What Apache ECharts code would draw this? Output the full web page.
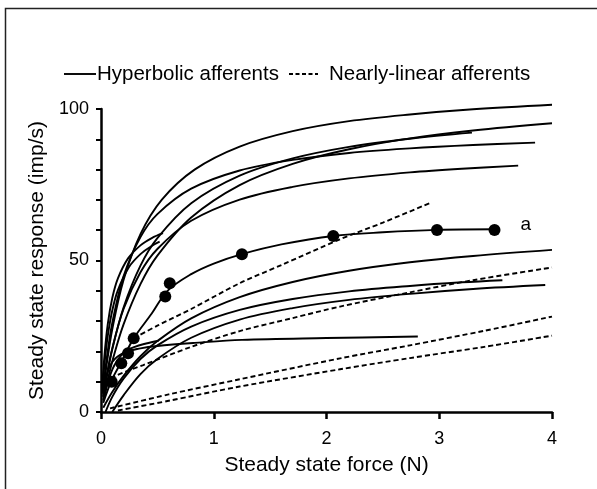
<!DOCTYPE html>
<html><head><meta charset="utf-8">
<script src="https://cdn.jsdelivr.net/npm/echarts@6/dist/echarts.min.js"></script>
<style>html,body{margin:0;padding:0;background:#fff}#c{width:597px;height:489px}</style>
</head><body><div id="c"></div>
<script>
// ---- text / ticks ----
const xTickValues = [0, 1, 2, 3, 4];
const yLabelValues = [0, 50, 100];
const legendNames = ['Hyperbolic afferents', 'Nearly-linear afferents'];
const xTitle = 'Steady state force (N)';
const yTitle = 'Steady state response (imp/s)';
const labelA = 'a';

// ---- hyperbolic afferents (solid), [force N, response imp/s] ----
const hyp1 = [[0.02,6.8],[0.05,15.6],[0.1,27.3],[0.2,43.6],[0.35,58.7],[0.54,70.1],[0.83,80],[1.23,87.6],[1.7,92.7],[2.2,96],[2.74,98.2],[3.3,99.9],[4,101.4]];
const hyp2 = [[0.02,3.8],[0.05,9],[0.1,16.7],[0.2,28.9],[0.35,42.2],[0.5,51.6],[0.8,64.2],[1.23,74.9],[1.7,81.9],[2.2,86.7],[2.74,90.3],[3.3,92.9],[4,95.3]];
const hyp3 = [[0.02,4.9],[0.05,11.5],[0.1,20.7],[0.2,34.5],[0.35,48.3],[0.5,57.4],[0.8,68.9],[1.23,78],[1.7,83.7],[2.2,87.5],[2.74,90.2],[3.29,92.2]];
const hyp4 = [[0.02,7.8],[0.05,17.4],[0.1,29.4],[0.2,44.8],[0.35,57.7],[0.5,65.3],[0.8,73.7],[1.23,79.7],[1.7,83.2],[2.2,85.5],[2.74,87],[3.3,88.1],[3.85,88.9]];
const hyp5 = [[0.02,5.2],[0.05,11.9],[0.1,21],[0.2,34],[0.35,46.1],[0.5,53.8],[0.8,63.1],[1.23,70.1],[1.7,74.3],[2.2,77.1],[2.74,79.1],[3.2,80.3],[3.7,81.3]];
const hyp6 = [[0.01,7.5],[0.03,18.4],[0.06,29],[0.1,37.6],[0.15,44.1],[0.24,50.7],[0.35,55],[0.45,57.4],[0.55,59]];
const hyp7 = [[0.01,6.1],[0.03,15.5],[0.06,25.1],[0.1,33.5],[0.15,40.2],[0.25,47.9],[0.35,52.1],[0.45,54.8],[0.52,56.2]];
const hyp8 = [[0.02,1.4],[0.1,6.6],[0.2,11.9],[0.35,18.4],[0.5,23.4],[0.8,30.9],[1.23,37.9],[1.7,42.9],[2.2,46.6],[2.74,49.4],[3.3,51.5],[4,53.5]];
const hyp9 = [[0.04,0],[0.1,5],[0.2,11],[0.35,17.5],[0.5,22],[0.8,28.2],[1.23,33.7],[1.7,37.3],[2.2,39.8],[2.74,41.6],[3.2,42.8],[3.56,43.5]];
const hyp10 = [[0.1,0],[0.2,5.5],[0.35,12.5],[0.5,17.5],[0.8,24.5],[1.23,30.5],[1.7,34.3],[2.2,37],[2.74,39],[3.3,40.6],[3.94,41.9]];
const hyp11 = [[0.02,6],[0.05,12],[0.1,16.5],[0.2,19.5],[0.35,21],[0.5,21.8],[0.83,22.8],[1.25,23.8],[2,24.4],[2.81,24.9]];
const hyp12 = [[0.03,5],[0.1,14],[0.2,19.5],[0.3,21.5],[0.4,22.6],[0.51,23.5]];
// afferent "a": fitted curve and measured points
const hypA = [[0.02,3],[0.095,10.5],[0.18,16.5],[0.29,24.3],[0.45,32.5],[0.59,40],[0.8,45.5],[1.0,49],[1.25,52.1],[1.6,55.3],[2.06,58.1],[2.5,59.3],[2.98,60.1],[3.49,60.3]];
const dotsA = [[0.095,10],[0.18,16.1],[0.24,19.4],[0.29,24.3],[0.57,38.1],[0.61,42.5],[1.25,52.1],[2.06,58.1],[2.98,60.1],[3.49,60.1]];

// ---- nearly-linear afferents (dashed) ----
const lin1 = [[0.29,24.3],[0.5,28.5],[0.8,34],[1.23,42.5],[1.6,48.5],[2.12,57],[2.5,62.5],[2.92,69]];
const lin2 = [[0.04,9],[0.12,11.7],[0.375,15.5],[0.8,21.5],[1.23,26.7],[1.7,31],[2.12,34.8],[2.74,39.5],[3.3,43.5],[4,47.7]];
const lin3 = [[0.08,1.2],[0.6,5.8],[1.23,10.8],[2.12,17.7],[2.74,22],[3.4,26.8],[4,31.5]];
const lin4 = [[0.15,0.5],[0.6,3.7],[1.23,8.4],[2.12,14.1],[2.74,17.8],[3.4,21.5],[4,25.2]];

const hypCurves = [hyp1,hyp2,hyp3,hyp4,hyp5,hyp6,hyp7,hyp8,hyp9,hyp10,hyp11,hyp12,hypA];
const linCurves = [lin1,lin2,lin3,lin4];

const FONT = 'Liberation Sans';
const INK = '#000';

const series = [];
hypCurves.forEach(d => series.push({
  type:'line', name: legendNames[0], data:d, smooth:0.35, clip:false,
  symbol:'none', silent:true, lineStyle:{color:INK, width:1.9}
}));
linCurves.forEach(d => series.push({
  type:'line', name: legendNames[1], data:d, smooth:0.3, clip:false,
  symbol:'none', silent:true, lineStyle:{color:INK, width:1.9, type:[5,3]}
}));
series.push({
  type:'scatter', name:'a', symbol:'circle', symbolSize:12, z:5, clip:false,
  itemStyle:{color:'#000', opacity:1},
  data: dotsA.map((p,i) => i === dotsA.length-1 ? {value:p, label:{show:true, position:'right', distance:20, offset:[0,-5], formatter:labelA, color:'#000', fontSize:19, fontFamily:FONT}} : p)
});

const chart = echarts.init(document.getElementById('c'), null, {renderer:'canvas'});
chart.setOption({
  animation:false,
  backgroundColor:'#fff',
  textStyle:{fontFamily:FONT},
  grid:{left:101, right:45, top:109, bottom:77},
  xAxis:{
    type:'value', min:0, max:4, interval:1,
    name:xTitle, nameLocation:'middle', nameGap:43,
    nameTextStyle:{fontSize:21, color:'#000', fontFamily:FONT},
    axisLine:{show:true, lineStyle:{color:'#000', width:2.5}},
    axisTick:{show:true, length:7, lineStyle:{color:'#000', width:2.5}},
    axisLabel:{fontSize:18, color:'#000', margin:18, fontFamily:FONT,
      formatter:v => xTickValues.includes(v) ? String(v) : ''},
    splitLine:{show:false}
  },
  yAxis:{
    type:'value', min:0, max:100, interval:10,
    name:yTitle, nameLocation:'middle', nameGap:52, nameRotate:90,
    nameTextStyle:{fontSize:21, color:'#000', fontFamily:FONT},
    axisLine:{show:true, lineStyle:{color:'#000', width:2.5}},
    axisTick:{show:true, length:5, lineStyle:{color:'#000', width:2}},
    axisLabel:{fontSize:18, color:'#000', margin:12, fontFamily:FONT,
      formatter:v => yLabelValues.includes(v) ? String(v) : ''},
    splitLine:{show:false}
  },
  graphic:[
    {type:'polyline', shape:{points:[[5.5,489],[5.5,8.5],[597,8.5]]}, style:{stroke:'#222', lineWidth:1.5, fill:null}},
    {type:'line', shape:{x1:64, y1:74, x2:96, y2:74}, style:{stroke:INK, lineWidth:1.9}},
    {type:'text', x:97, y:74, style:{text:legendNames[0], font:'20.5px '+FONT, fill:'#000', verticalAlign:'middle'}},
    {type:'line', shape:{x1:289, y1:74, x2:318, y2:74}, style:{stroke:INK, lineWidth:1.9, lineDash:[4,2.5]}},
    {type:'text', x:329, y:74, style:{text:legendNames[1], font:'20.5px '+FONT, fill:'#000', verticalAlign:'middle'}}
  ],
  series: series
});
</script></body></html>
